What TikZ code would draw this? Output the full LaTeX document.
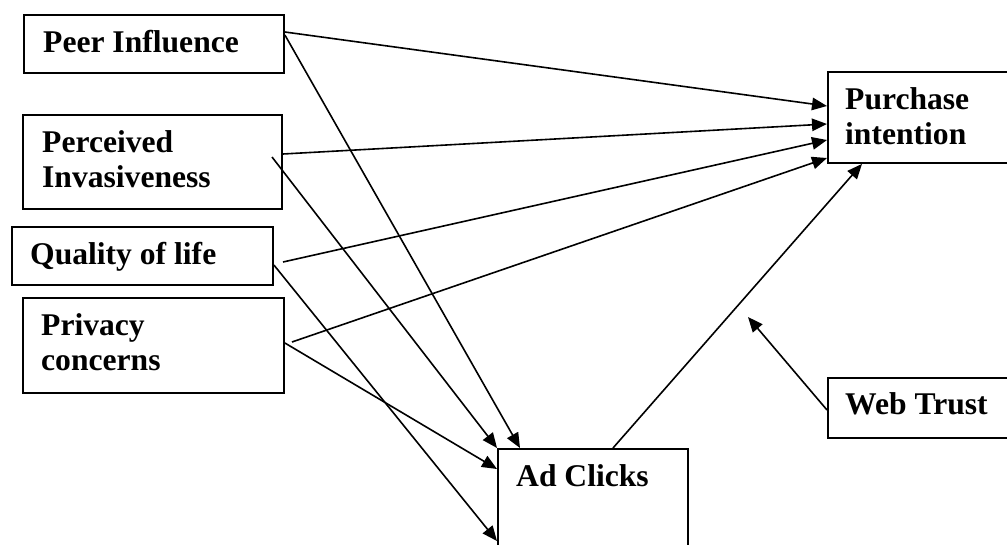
\documentclass[tikz,border=0pt]{standalone}
\usepackage{fontspec}
\setmainfont{Liberation Serif}
\usetikzlibrary{arrows.meta}
\begin{document}
\begin{tikzpicture}[x=1pt,y=-1pt,
  box/.style={draw, line width=1.9pt, anchor=north west, inner sep=0pt},
  lbl/.style={anchor=base west, inner sep=0pt, align=left, font=\bfseries\fontsize{31.6}{35}\selectfont},
  conn/.style={line width=1.6pt, -{Triangle[length=15pt,width=12.5pt]}}]
\useasboundingbox (0,0) rectangle (1007,544);
\clip (0,0) rectangle (1007,544);
% boxes
\node[box, minimum width=260pt, minimum height=58pt] (peer) at (23,14) {};
\node[box, minimum width=259pt, minimum height=94pt] (perc) at (22,114) {};
\node[box, minimum width=261pt, minimum height=58pt] (qual) at (11,226) {};
\node[box, minimum width=261pt, minimum height=95pt] (priv) at (22,297) {};
\node[box, minimum width=190pt, minimum height=91pt] (purch) at (827,71) {};
\node[box, minimum width=190pt, minimum height=60pt] (web) at (827,377) {};
\node[box, minimum width=190pt, minimum height=120pt] (ad) at (497,448) {};
% labels (base = last line's baseline)
\node[lbl] (tpeer) at (43,52) {Peer Influence};
\node[lbl] (tperc) at (42,187) {Perceived\\Invasiveness};
\node[lbl] (tqual) at (30,264) {Quality of life};
\node[lbl] (tpriv) at (41,370) {Privacy\\concerns};
\node[lbl] (tpurch) at (845,144) {Purchase\\intention};
\node[lbl] (tweb) at (845,414) {Web Trust};
\node[lbl] (tad) at (516,486) {Ad Clicks};
% free points
\coordinate (s4) at (272,157);
\coordinate (s5) at (283,262);
\coordinate (s7) at (292,342);
\coordinate (e10) at (748,317);
% connectors
\draw[conn] ([yshift=-18pt]peer.north east) -- ([yshift=-35pt]purch.north west);
\draw[conn] ([yshift=-21pt]peer.north east) -- ([xshift=23pt]ad.north west);
\draw[conn] ([yshift=-40pt]perc.north east) -- ([yshift=-53pt]purch.north west);
\draw[conn] (s4) -- (ad.north west);
\draw[conn] (s5) -- ([yshift=-69pt]purch.north west);
\draw[conn] ([yshift=-39pt]qual.north east) -- ([yshift=-93pt]ad.north west);
\draw[conn] (s7) -- ([yshift=-87pt]purch.north west);
\draw[conn] ([yshift=-46pt]priv.north east) -- ([yshift=-21pt]ad.north west);
\draw[conn] ([xshift=116pt]ad.north west) -- ([xshift=35pt]purch.south west);
\draw[conn] ([yshift=-33pt]web.north west) -- (e10);
\end{tikzpicture}
\end{document}
